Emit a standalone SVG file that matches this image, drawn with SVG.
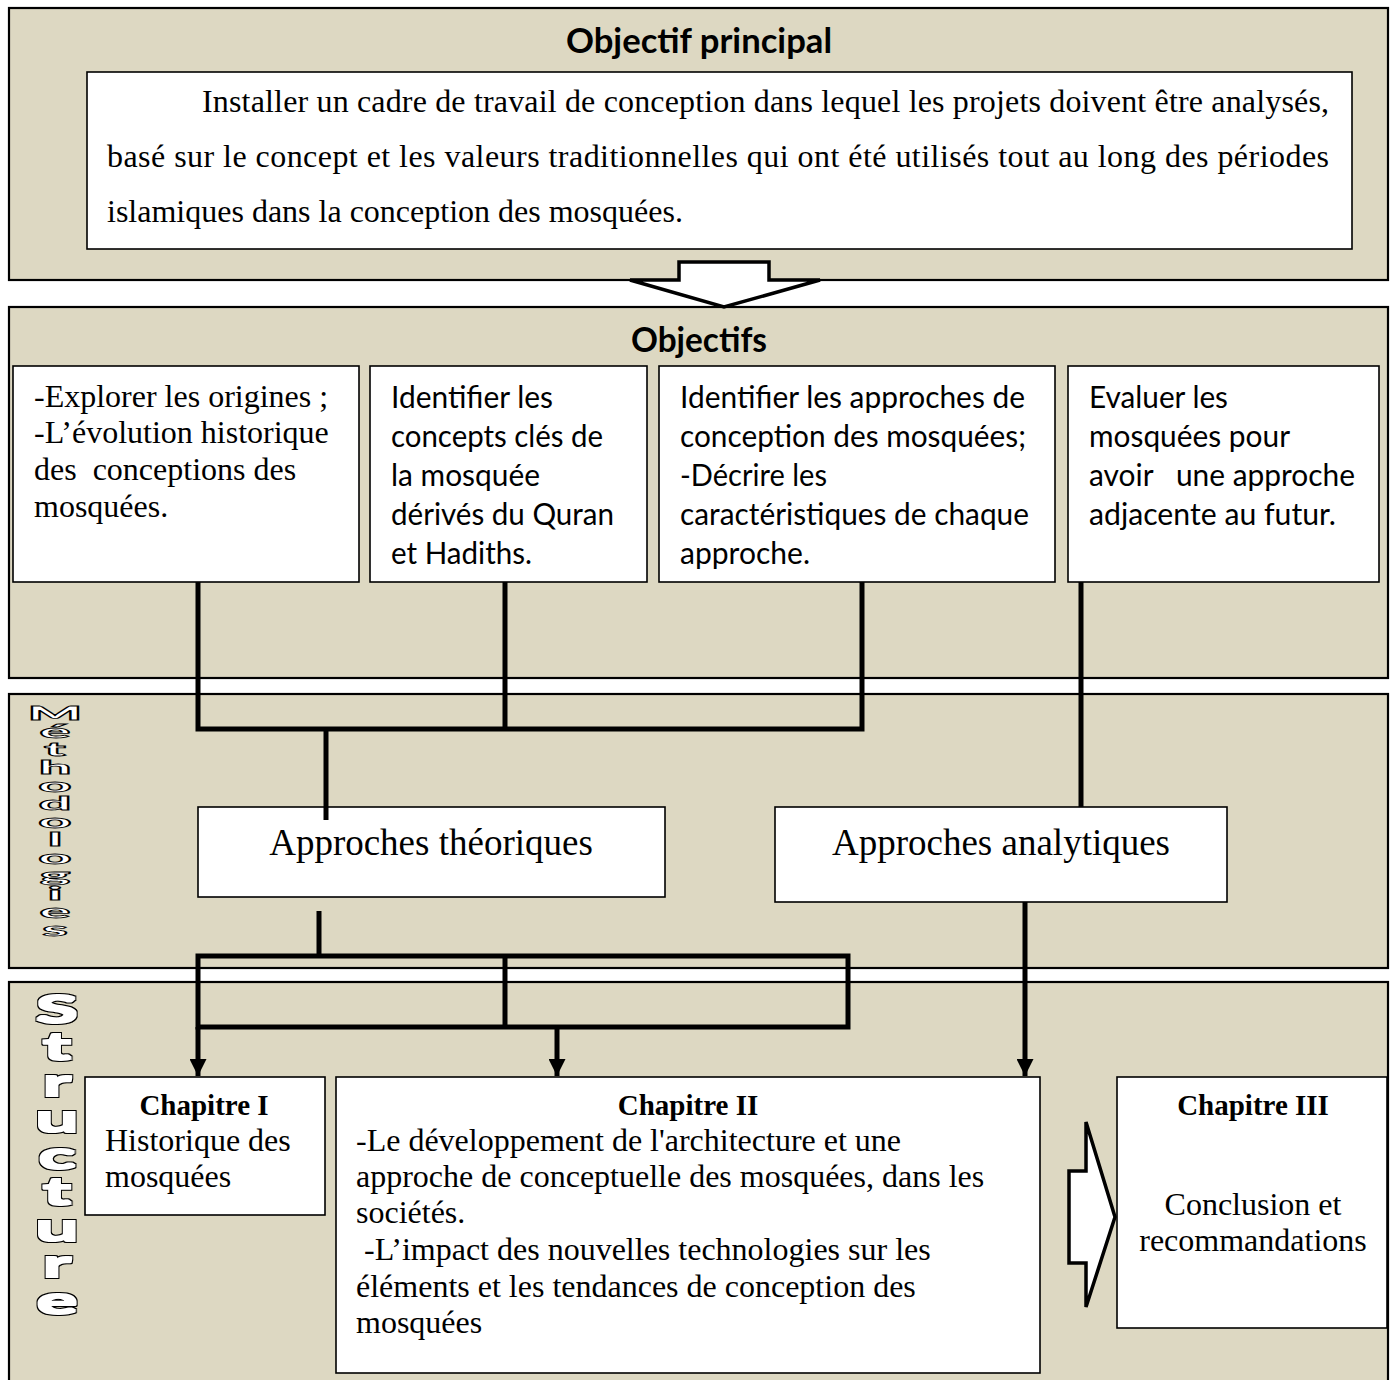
<svg xmlns="http://www.w3.org/2000/svg" width="1396" height="1380" viewBox="0 0 1396 1380">
<style>
.panel{fill:#DDD8C2;stroke:#000;stroke-width:2.2}
.box{fill:#fff;stroke:#000;stroke-width:1.6}
.serif{font-family:"Liberation Serif","Times New Roman",serif;font-size:32px;fill:#000}
.sans{font-family:Lato,"Liberation Sans",sans-serif;font-size:30px;fill:#000}
.title{font-family:Lato,"Liberation Sans",sans-serif;font-size:34px;font-weight:bold;fill:#000}
.ch{font-family:"Liberation Serif","Times New Roman",serif;font-size:29px;font-weight:bold;fill:#000}
.app{font-family:"Liberation Serif","Times New Roman",serif;font-size:37px;fill:#000}
.wa{font-family:Lato,"DejaVu Sans",sans-serif;font-weight:900;fill:#fff;writing-mode:vertical-rl;text-orientation:upright}
.conn{stroke:#000;stroke-width:5;fill:none}
.blk{fill:#fff;stroke:#000;stroke-width:3.5;stroke-linejoin:miter}
</style>
<defs>
<marker id="ah" viewBox="0 0 10 10" refX="10" refY="5" markerWidth="3.4" markerHeight="3.4" orient="auto" markerUnits="strokeWidth">
<path d="M0,0 L10,5 L0,10 z" fill="#000"/>
</marker>
<filter id="fatS" x="-40%" y="-5%" width="180%" height="110%" color-interpolation-filters="sRGB">
<feMorphology in="SourceAlpha" operator="dilate" radius="0.6 1.2" result="a"/>
<feMorphology in="SourceAlpha" operator="dilate" radius="1.1 2.3" result="b"/>
<feFlood flood-color="#000"/><feComposite in2="b" operator="in" result="bk"/>
<feFlood flood-color="#fff"/><feComposite in2="a" operator="in" result="wh"/>
<feMerge><feMergeNode in="bk"/><feMergeNode in="wh"/></feMerge>
</filter>
</defs>
<rect width="1396" height="1380" fill="#fff"/>

<g id="panel-objectif-principal">
<rect class="panel" x="9" y="8" width="1379" height="272"/>
<text class="title" x="699" y="53" text-anchor="middle" textLength="266" lengthAdjust="spacingAndGlyphs">Objectif principal</text>
</g>
<g id="panel-objectifs">
<rect class="panel" x="9" y="307" width="1379" height="371"/>
<text class="title" x="699" y="352" text-anchor="middle" textLength="136" lengthAdjust="spacingAndGlyphs">Objectifs</text>
</g>
<g id="panel-methodologies">
<rect class="panel" x="9" y="694" width="1379" height="274"/>
<text class="wa" x="55" y="702" font-size="18" letter-spacing="-3.5" stroke="#000" stroke-width="0.75" transform="translate(55,0) scale(3.2,1) translate(-55,0)">Méthodologies</text>
</g>
<g id="panel-structure">
<rect class="panel" x="9" y="982" width="1379" height="410"/>
<text class="wa" x="57" y="987" font-size="37" letter-spacing="-8.1" filter="url(#fatS)" transform="translate(57,0) scale(2.1,1) translate(-57,0)">Structure</text>
</g>

<g id="node-objectif-text">
<rect class="box" x="87" y="72" width="1265" height="177"/>
<text class="serif" x="202" y="112" textLength="1127" lengthAdjust="spacing">Installer un cadre de travail de conception dans lequel les projets doivent être analysés,</text>
<text class="serif" x="107" y="167" textLength="1222" lengthAdjust="spacing">basé sur le concept et les valeurs traditionnelles qui ont été utilisés tout au long des périodes</text>
<text class="serif" x="107" y="222">islamiques dans la conception des mosquées.</text>
</g>

<g id="node-obj1">
<rect class="box" x="13" y="366" width="346" height="216"/>
<text class="serif" x="34" y="407">-Explorer les origines ;</text>
<text class="serif" x="34" y="443">-L’évolution historique</text>
<text class="serif" x="34" y="480" xml:space="preserve">des  conceptions des</text>
<text class="serif" x="34" y="517">mosquées.</text>
</g>
<g id="node-obj2">
<rect class="box" x="370" y="366" width="277" height="216"/>
<text class="sans" x="391" y="408" textLength="162" lengthAdjust="spacingAndGlyphs">Identifier les</text>
<text class="sans" x="391" y="447" textLength="212" lengthAdjust="spacingAndGlyphs">concepts clés de</text>
<text class="sans" x="391" y="486" textLength="149" lengthAdjust="spacingAndGlyphs">la mosquée</text>
<text class="sans" x="391" y="525" textLength="223" lengthAdjust="spacingAndGlyphs">dérivés du Quran</text>
<text class="sans" x="391" y="564" textLength="141" lengthAdjust="spacingAndGlyphs">et Hadiths.</text>
</g>
<g id="node-obj3">
<rect class="box" x="659" y="366" width="396" height="216"/>
<text class="sans" x="680" y="408" textLength="345" lengthAdjust="spacingAndGlyphs">Identifier les approches de</text>
<text class="sans" x="680" y="447" textLength="346" lengthAdjust="spacingAndGlyphs">conception des mosquées;</text>
<text class="sans" x="680" y="486" textLength="147" lengthAdjust="spacingAndGlyphs">-Décrire les</text>
<text class="sans" x="680" y="525" textLength="349" lengthAdjust="spacingAndGlyphs">caractéristiques de chaque</text>
<text class="sans" x="680" y="564" textLength="130" lengthAdjust="spacingAndGlyphs">approche.</text>
</g>
<g id="node-obj4">
<rect class="box" x="1068" y="366" width="311" height="216"/>
<text class="sans" x="1089" y="408" textLength="139" lengthAdjust="spacingAndGlyphs">Evaluer les</text>
<text class="sans" x="1089" y="447" textLength="201" lengthAdjust="spacingAndGlyphs">mosquées pour</text>
<text class="sans" x="1089" y="486" textLength="266" lengthAdjust="spacingAndGlyphs" xml:space="preserve">avoir   une approche</text>
<text class="sans" x="1089" y="525" textLength="247" lengthAdjust="spacingAndGlyphs">adjacente au futur.</text>
</g>

<g id="node-approches-theoriques">
<rect class="box" x="198" y="807" width="467" height="90"/>
<text class="app" x="431" y="855" text-anchor="middle">Approches théoriques</text>
</g>
<g id="node-approches-analytiques">
<rect class="box" x="775" y="807" width="452" height="95"/>
<text class="app" x="1001" y="855" text-anchor="middle">Approches analytiques</text>
</g>

<g id="node-chapitre1">
<rect class="box" x="85" y="1077" width="240" height="138"/>
<text class="ch" x="204" y="1115" text-anchor="middle">Chapitre I</text>
<text class="serif" x="105" y="1151">Historique des</text>
<text class="serif" x="105" y="1187">mosquées</text>
</g>
<g id="node-chapitre2">
<rect class="box" x="336" y="1077" width="704" height="296"/>
<text class="ch" x="688" y="1115" text-anchor="middle">Chapitre II</text>
<text class="serif" x="356" y="1151">-Le développement de l'architecture et une</text>
<text class="serif" x="356" y="1187">approche de conceptuelle des mosquées, dans les</text>
<text class="serif" x="356" y="1223">sociétés.</text>
<text class="serif" x="356" y="1260" xml:space="preserve"> -L’impact des nouvelles technologies sur les</text>
<text class="serif" x="356" y="1297">éléments et les tendances de conception des</text>
<text class="serif" x="356" y="1333">mosquées</text>
</g>
<g id="node-chapitre3">
<rect class="box" x="1117" y="1077" width="270" height="251"/>
<text class="ch" x="1253" y="1115" text-anchor="middle">Chapitre III</text>
<text class="serif" x="1253" y="1215" text-anchor="middle">Conclusion et</text>
<text class="serif" x="1253" y="1251" text-anchor="middle">recommandations</text>
</g>

<g id="connectors">
<polygon class="blk" points="679,262 769,262 769,280 820,280 724,307 630,280 679,280"/>
<polyline class="conn" points="198,582 198,729 862,729 862,582"/>
<line class="conn" x1="505" y1="582" x2="505" y2="729"/>
<line class="conn" x1="326" y1="729" x2="326" y2="820"/>
<line class="conn" x1="1081" y1="582" x2="1081" y2="807"/>
<line class="conn" x1="319" y1="911" x2="319" y2="956"/>
<rect class="conn" x="198" y="956" width="650" height="71"/>
<line class="conn" x1="505" y1="956" x2="505" y2="1027"/>
<line class="conn" x1="198" y1="1027" x2="198" y2="1076" marker-end="url(#ah)"/>
<line class="conn" x1="557" y1="1027" x2="557" y2="1076" marker-end="url(#ah)"/>
<line class="conn" x1="1025" y1="902" x2="1025" y2="1076" marker-end="url(#ah)"/>
<polygon class="blk" points="1086,1122 1086,1171 1069,1171 1069,1263 1086,1263 1086,1307 1115,1217"/>
</g>
</svg>
